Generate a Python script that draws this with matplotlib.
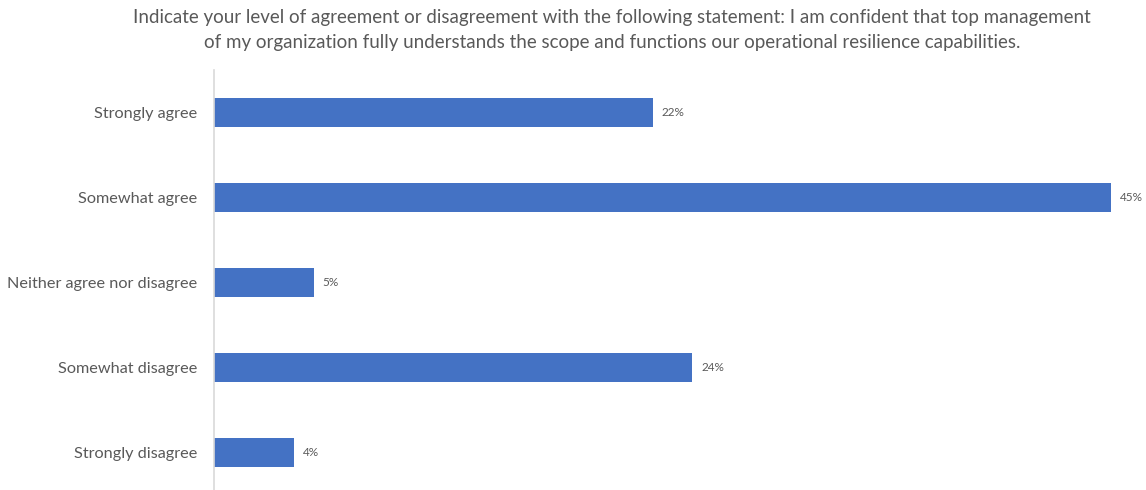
import matplotlib.pyplot as plt

# survey responses, top to bottom
categories = ['Strongly agree', 'Somewhat agree', 'Neither agree nor disagree',
              'Somewhat disagree', 'Strongly disagree']
shares = [22, 45, 5, 24, 4]

title = ('Indicate your level of agreement or disagreement with the following statement: I am confident that top management\n'
         'of my organization fully understands the scope and functions our operational resilience capabilities.')

plt.rcParams['font.family'] = ['Lato', 'DejaVu Sans']
text_grey = '#595959'

W, H = 1146, 490
fig = plt.figure(figsize=(W / 100, H / 100), dpi=100)
ax = fig.add_axes([214 / W, 1 - 495 / H, (1111 - 214) / W, 425 / H])

ypos = list(range(len(categories)))
bars = ax.barh(ypos, shares, height=0.35, color='#4472C4')
ax.bar_label(bars, labels=[f'{v}%' for v in shares], padding=6.5,
             fontsize=8.5, color=text_grey, clip_on=False)

ax.set_xlim(0, 45)
ax.set_ylim(4.5, -0.5)
ax.set_yticks(ypos)
ax.set_yticklabels(categories, fontsize=11.7, color=text_grey)
ax.tick_params(axis='y', length=0, pad=12)
ax.set_xticks([])
for side in ['top', 'right', 'bottom']:
    ax.spines[side].set_visible(False)
ax.spines['left'].set_color('#d9d9d9')
ax.spines['left'].set_linewidth(1.2)

fig.text(612 / W, 1 - 30 / H, title, ha='center', va='center', fontsize=13.5,
         color=text_grey, linespacing=1.55)

fig.savefig('out.png', dpi=100)
